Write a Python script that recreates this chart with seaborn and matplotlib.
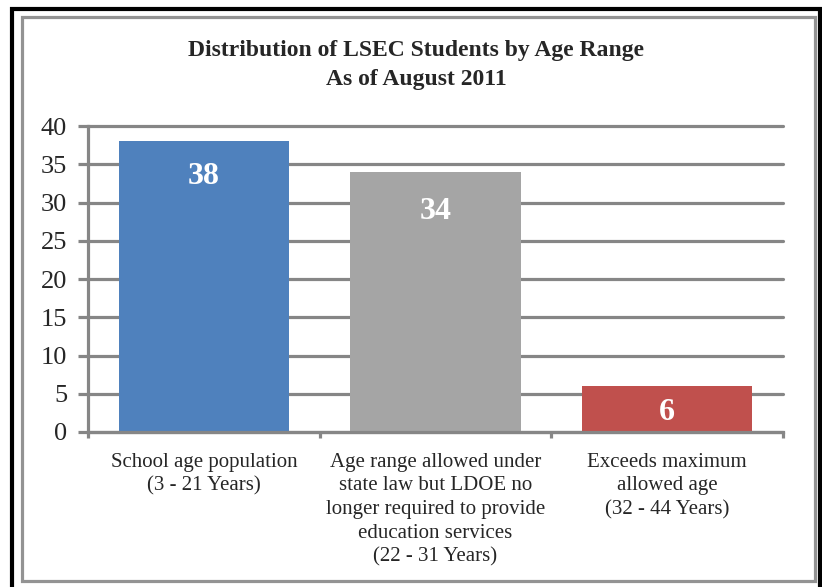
import matplotlib
matplotlib.use("Agg")
import matplotlib.pyplot as plt
import seaborn as sns
import pandas as pd
from matplotlib.patches import Rectangle

categories = [
    "School age population\n(3 - 21 Years)",
    "Age range allowed under\nstate law but LDOE no\nlonger required to provide\neducation services\n(22 - 31 Years)",
    "Exceeds maximum\nallowed age\n(32 - 44 Years)",
]
students = [38, 34, 6]
bar_colors = ["#4F81BD", "#A5A5A5", "#C0504D"]
y_ticks = [0, 5, 10, 15, 20, 25, 30, 35, 40]

title = "Distribution of LSEC Students by Age Range\nAs of August 2011"

sns.set_style("white")
plt.rcParams["font.family"] = ["Liberation Serif", "DejaVu Serif"]

df = pd.DataFrame({"category": categories, "students": students})

grid_color = "#868686"

fig = plt.figure(figsize=(8.22, 5.87), dpi=100)
ax = fig.add_axes([88 / 822, 1 - 432 / 587, 695 / 822, 306 / 587])

sns.barplot(
    data=df,
    x="category",
    y="students",
    hue="category",
    palette=bar_colors,
    width=0.734,
    saturation=1,
    legend=False,
    edgecolor="none",
    linewidth=0,
    ax=ax,
    zorder=3,
)

ax.set_xlim(-0.5, 2.5)
ax.set_ylim(0, 40)
ax.set_yticks(y_ticks)
ax.set_xlabel("")
ax.set_ylabel("")

ax.grid(axis="y", color=grid_color, linewidth=2.3, zorder=0)
ax.set_axisbelow(True)
for line in ax.get_ygridlines():
    line.set_clip_on(False)

for side in ["top", "right"]:
    ax.spines[side].set_visible(False)
for side in ["left", "bottom"]:
    ax.spines[side].set_color(grid_color)
    ax.spines[side].set_linewidth(2.3)
    ax.spines[side].set_zorder(4)

ax.tick_params(axis="y", direction="out", length=7, width=2.3,
               color=grid_color, labelsize=19, pad=8, left=True)
ax.set_xticks([-0.5, 0.5, 1.5, 2.5], minor=True)
ax.tick_params(axis="x", which="minor", direction="out", length=4.5,
               width=2.3, color=grid_color, bottom=True)
ax.tick_params(axis="x", which="major", length=0, pad=15)
for lbl in ax.get_xticklabels():
    lbl.set_fontsize(15)
    lbl.set_linespacing(1.33)
    lbl.set_va("top")

# value labels sit just inside the top of each bar
label_drop = [4.6, 5.2, 3.5]
for i, v in enumerate(students):
    ax.text(i, v - label_drop[i], str(v), ha="center", va="center",
            color="white", fontsize=23, fontweight="bold", zorder=5)

fig.text(416 / 822, 1 - 65 / 587, title, ha="center", va="center",
         fontsize=17, fontweight="bold", linespacing=1.5)

# chart frame: gray inner border, black outer border
fig.add_artist(Rectangle((21.5 / 822, 1 - 581 / 587), (815 - 21.5) / 822,
                         (581 - 17) / 587, fill=False, edgecolor="#939393",
                         linewidth=2.3, transform=fig.transFigure))
fig.add_artist(Rectangle((12 / 822, -0.02), (820 - 12) / 822,
                         1 - 9 / 587 + 0.02, fill=False, edgecolor="black",
                         linewidth=3, transform=fig.transFigure))

fig.savefig("out.png", dpi=100)
